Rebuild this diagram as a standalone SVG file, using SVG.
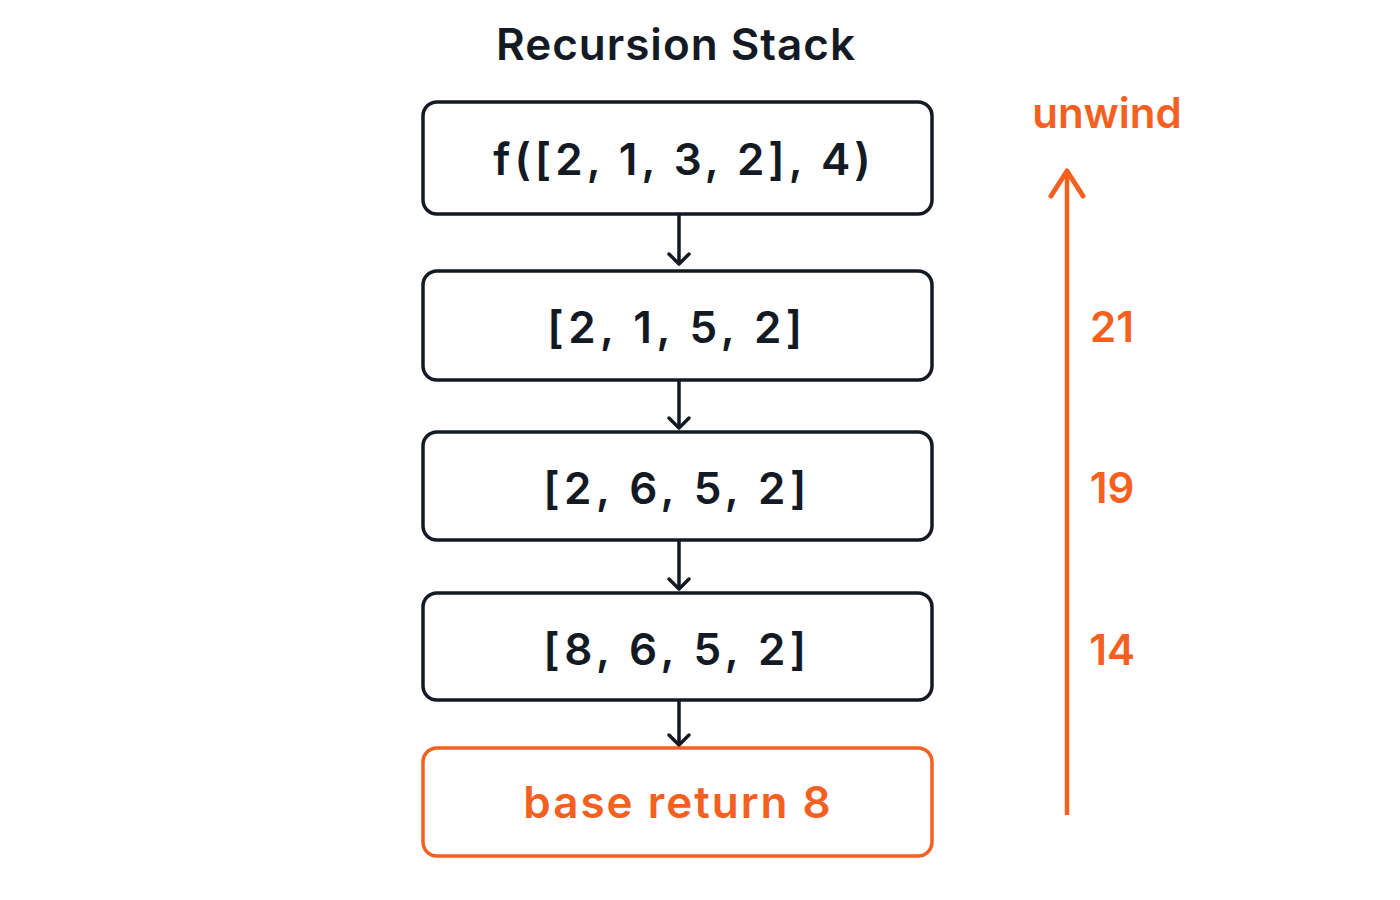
<svg xmlns="http://www.w3.org/2000/svg" width="1400" height="900" viewBox="0 0 1400 900">
<style>
.box{fill:#fff;stroke:#141a24;stroke-width:3.5}
.obox{fill:#fff;stroke:#f4601f;stroke-width:3.5}
.t{font-family:Inter,"Liberation Sans",sans-serif;font-size:44px;font-weight:600;fill:#141a24;text-anchor:middle;letter-spacing:4.5px}
.o{font-family:Inter,"Liberation Sans",sans-serif;font-size:42px;font-weight:600;fill:#f4601f;text-anchor:middle}
.c{stroke:#141a24;stroke-width:3.5;fill:none}
.h{fill:none;stroke:#141a24;stroke-width:3.5;stroke-linecap:round;stroke-linejoin:round}
</style>
<rect width="1400" height="900" fill="#fff"/>
<text x="676" y="60" class="t" style="letter-spacing:1px">Recursion Stack</text>
<g id="n1"><rect class="box" x="423" y="102" width="509" height="112" rx="14"/><text class="t" x="684" y="175" style="letter-spacing:4px">f([2, 1, 3, 2], 4)</text></g>
<g id="n2"><rect class="box" x="423" y="271" width="509" height="109" rx="14"/><text class="t" x="677" y="343">[2, 1, 5, 2]</text></g>
<g id="n3"><rect class="box" x="423" y="432" width="509" height="108" rx="14"/><text class="t" x="677" y="504">[2, 6, 5, 2]</text></g>
<g id="n4"><rect class="box" x="423" y="593" width="509" height="107" rx="14"/><text class="t" x="677" y="665">[8, 6, 5, 2]</text></g>
<g id="n5"><rect class="obox" x="423" y="748" width="509" height="108" rx="14"/><text class="o" x="678" y="818" style="font-size:44px;letter-spacing:2px">base return 8</text></g>
<g id="connectors">
<line class="c" x1="679" y1="214" x2="679" y2="264"/><path class="h" d="M669 254 L679 264 L689 254"/>
<line class="c" x1="679" y1="380" x2="679" y2="428"/><path class="h" d="M669 418 L679 428 L689 418"/>
<line class="c" x1="679" y1="540" x2="679" y2="589"/><path class="h" d="M669 579 L679 589 L689 579"/>
<line class="c" x1="679" y1="700" x2="679" y2="745"/><path class="h" d="M669 735 L679 745 L689 735"/>
<line x1="1067" y1="815" x2="1067" y2="172" stroke="#f4601f" stroke-width="4.5"/>
<path d="M1051 196 L1067 171 L1083 196" fill="none" stroke="#f4601f" stroke-width="5" stroke-linecap="round" stroke-linejoin="round"/>
</g>
<text class="o" x="1107" y="128">unwind</text>
<text class="o" x="1112" y="342">21</text>
<text class="o" x="1112" y="503">19</text>
<text class="o" x="1112" y="665">14</text>
</svg>
